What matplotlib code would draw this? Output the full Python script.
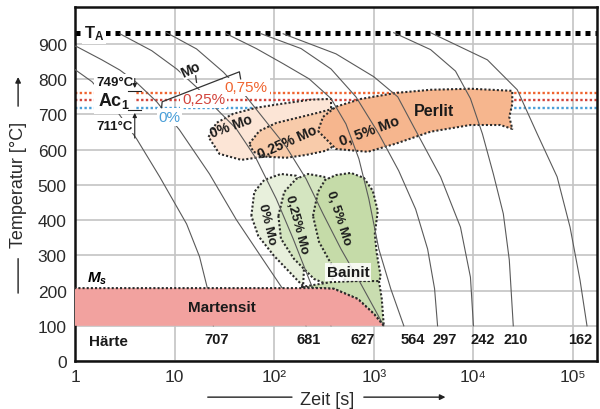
import matplotlib.pyplot as plt

plt.rcParams['font.family'] = ['Liberation Sans', 'DejaVu Sans']
plt.rcParams['mathtext.fontset'] = 'custom'
plt.rcParams['mathtext.rm'] = 'Liberation Sans:bold'
plt.rcParams['mathtext.it'] = 'Liberation Sans:italic:bold'
plt.rcParams['mathtext.bf'] = 'Liberation Sans:bold'

# ---- Daten: Abkuehlkurven (Zeit in s, Temperatur in °C) ----
t_c707 = [0.85, 1.05, 1.48, 2.45, 4.17, 7.08, 13.2, 17.8, 21.4, 24.5]
T_c707 = [842, 823, 793, 722, 630, 523, 389, 296, 205, 100]
t_c681 = [0.85, 1.05, 1.86, 2.82, 4.17, 6.61, 11.2, 22.4, 41.7, 77.6, 132, 209]
T_c681 = [901, 892, 855, 826, 790, 736, 656, 531, 401, 287, 190, 100]
t_cmid = [2.82, 5.89, 10.5, 17.4, 26.3, 41.7, 66.1, 105, 155, 224, 295, 372]
T_cmid = [929, 881, 829, 772, 716, 659, 574, 460, 347, 232, 148, 100]
t_c627 = [8.32, 16.6, 30.9, 52.5, 83.2, 132, 209, 309, 468, 741, 1259]
T_c627 = [932, 886, 820, 750, 679, 608, 517, 418, 318, 219, 100]
t_c564 = [33.1, 66.1, 123, 224, 372, 525, 708, 891, 1122, 1479, 2000]
T_c564 = [929, 887, 844, 801, 745, 673, 574, 460, 318, 205, 100]
t_c297 = [74.1, 186, 372, 661, 1122, 1778, 2630, 3467, 4074, 4365]
T_c297 = [929, 887, 829, 750, 645, 540, 431, 318, 205, 100]
t_c242 = [123, 417, 1000, 1738, 2512, 4677, 7413, 9333, 10000]
T_c242 = [929, 872, 807, 750, 665, 523, 380, 238, 100]
t_c210 = [1585, 3715, 6607, 9333, 12303, 15849, 19953, 22909, 25119]
T_c210 = [932, 884, 823, 745, 645, 531, 418, 287, 100]
t_c162 = [3715, 13804, 27542, 43652, 69183, 93325, 117490, 138038]
T_c162 = [932, 855, 770, 645, 523, 380, 230, 100]

# Haerte am Ende der Kurven
haerte = [707, 681, 627, 564, 297, 242, 210, 162]
haerte_t = [26.3, 224, 776, 2455, 5129, 12303, 26303, 117490]

# Kennlinien
T_A = 932
M_s = 207
ac1_T = [762, 740, 719]
ac1_mo = ['0,75%', '0,25%', '0%']
ac1_col = ['#F0642F', '#D2443C', '#4A9FD8']

# Perlitgebiete
perl0_t = [21.9, 26.3, 38.9, 66.1, 117, 234, 372, 372, 186, 77.6, 46.8, 28.2]
perl0_T = [636, 676, 702, 719, 730, 742, 744, 659, 602, 580, 571, 588]
perl25_t = [56.2, 70.8, 105, 186, 295, 468, 525, 331, 209, 132, 83.2, 61.7]
perl25_T = [617, 653, 676, 693, 707, 722, 631, 597, 585, 577, 580, 594]
perl50_t = [275, 417, 871, 1660, 3715, 9333, 18621, 24547, 22909, 24547, 24547,
            9333, 3715, 1660, 741, 417, 309]
perl50_T = [653, 602, 594, 617, 651, 670, 670, 659, 693, 730, 767, 773, 770, 761,
            744, 722, 693]

# Bainitgebiete
bain0_t = [58.9, 63.1, 79.4, 117, 166, 209, 224, 209, 200, 195, 174, 100, 69.2]
bain0_T = [412, 480, 514, 531, 526, 494, 432, 347, 276, 213, 227, 298, 355]
bain25_t = [110, 126, 166, 219, 316, 417, 468, 447, 417, 372, 251, 158, 117]
bain25_T = [412, 480, 517, 531, 523, 494, 432, 347, 276, 213, 233, 290, 347]
bain50_t = [245, 275, 324, 417, 589, 794, 977, 1096, 1023, 1072, 1175, 1122, 525,
            372, 282]
bain50_T = [412, 480, 514, 528, 534, 520, 483, 426, 361, 304, 239, 227, 227, 276, 338]
bainU_t = [186, 372, 1122, 1202, 1259, 1000, 692, 398]
bainU_T = [210, 224, 230, 176, 100, 134, 176, 205]

# Martensit
mart_t = [0.5, 295, 398, 692, 1000, 1259, 0.5]
mart_T = [207, 207, 205, 176, 134, 100, 100]

# ---- Zeichnen ----
fig = plt.figure(figsize=(6.0, 4.1), dpi=100)
ax = fig.add_axes([0.125, 0.117, 0.87, 0.8635])
ax.set_xscale('log')
ax.set_xlim(1, 1.74e5)
ax.set_ylim(0, 1005)
ax.set_xticks([1, 10, 100, 1000, 1e4, 1e5])
ax.set_xticklabels(['1', '10', '10²', '10³', '10⁴', '10⁵'])
ax.minorticks_off()
ax.set_yticks(range(0, 1000, 100))
ax.tick_params(length=0, labelsize=12.5, labelcolor='#2a2a2a')
ax.tick_params(axis='y', pad=6)
ax.tick_params(axis='x', pad=6)
ax.grid(True, color='#c4c4c4', lw=1.2, zorder=0)
ax.set_axisbelow(True)
for s in ax.spines.values():
    s.set_linewidth(1.8)
    s.set_color('#111111')

dot = (0, (1, 1))
edge = dict(color='#2b2b2b', lw=1.5, ls=dot)

# TA und Ac1
ax.axhline(T_A, color='black', lw=3.6, ls=dot, zorder=2)
for T, c in zip(ac1_T, ac1_col):
    ax.axhline(T, color=c, lw=1.7, ls=dot, zorder=1)


def region(t, T, col, z):
    ax.fill(t, T, color=col, lw=0, zorder=z)
    ax.plot(list(t) + [t[0]], list(T) + [T[0]], zorder=z + 0.1, **edge)


region(perl0_t, perl0_T, '#FCE5D6', 2)
region(perl25_t, perl25_T, '#F8CBAA', 2.3)
region(perl50_t, perl50_T, '#F6B68E', 2.6)
region(bain0_t, bain0_T, '#E8F0DC', 2)
region(bain25_t, bain25_T, '#D4E5C0', 2.3)
region(bainU_t, bainU_T, '#C9DDB0', 2.4)
region(bain50_t, bain50_T, '#C5DBA8', 2.6)

for t, T in [(t_c707, T_c707), (t_c681, T_c681), (t_cmid, T_cmid),
             (t_c627, T_c627), (t_c564, T_c564), (t_c297, T_c297),
             (t_c242, T_c242), (t_c210, T_c210), (t_c162, T_c162)]:
    ax.plot(t, T, color='#5a5a5a', lw=0.8, zorder=4)

ax.fill(mart_t, mart_T, color='#F2A29F', lw=0, zorder=5)
ax.plot(mart_t[:-1], mart_T[:-1], zorder=5.1, **edge)

wbox = dict(facecolor='white', edgecolor='none', pad=1.2)
bold = dict(fontweight='bold', color='#1a1a1a')

ax.text(1.55, T_A, r'T$_\mathrm{A}$', fontsize=12, ha='center', va='center',
        bbox=wbox, zorder=6, **bold)

# Ac1 Beschriftung
ax.text(2.45, 742, r'Ac$_1$', fontsize=13, ha='center', va='center',
        bbox=dict(facecolor='white', edgecolor='none', pad=3), zorder=6, **bold)
ax.text(2.5, 793, '749°C', fontsize=9.5, ha='center', va='center',
        bbox=wbox, zorder=6, **bold)
ax.text(2.5, 668, '711°C', fontsize=9.5, ha='center', va='center',
        bbox=wbox, zorder=6, **bold)
arr = dict(arrowstyle='-|>', lw=0.8, color='#222222', mutation_scale=6)
ax.annotate('', xy=(3.98, 767), xytext=(3.98, 810), arrowprops=arr, zorder=6)
ax.annotate('', xy=(3.98, 712), xytext=(3.98, 625), arrowprops=arr, zorder=6)
ax.plot([3.4, 4.6], [767, 767], color='#222222', lw=0.8, zorder=6)
ax.plot([3.4, 4.6], [712, 712], color='#222222', lw=0.8, zorder=6)

# Mo-Klammer
ax.text(52.5, 778, ac1_mo[0], fontsize=11, color=ac1_col[0], ha='center',
        va='center', bbox=wbox, zorder=6)
ax.text(19.5, 744, ac1_mo[1], fontsize=11, color=ac1_col[1], ha='center',
        va='center', bbox=wbox, zorder=6)
ax.text(8.9, 693, ac1_mo[2], fontsize=11, color=ac1_col[2], ha='center',
        va='center', bbox=wbox, zorder=6)
ax.plot([7.4, 7.5, 44.7, 46], [719, 736, 821, 801], color='#333333', lw=0.9, zorder=6)
ax.plot([16.6, 16.2], [791, 814], color='#333333', lw=0.9, zorder=6)
ax.text(14.5, 829, 'Mo', fontsize=10, rotation=25, ha='center', va='center',
        bbox=dict(facecolor='white', edgecolor='none', pad=0.5), zorder=6, **bold)

# Gebietsbeschriftungen
ax.text(37, 668, '0% Mo', fontsize=10, rotation=20, ha='center', va='center',
        zorder=6, **bold)
ax.text(136, 625, '0,25% Mo', fontsize=10, rotation=24, ha='center', va='center',
        zorder=6, **bold)
ax.text(912, 656, '0, 5% Mo', fontsize=10.5, rotation=20, ha='center', va='center',
        zorder=6, **bold)
ax.text(4000, 710, 'Perlit', fontsize=11.5, ha='center', va='center', zorder=6, **bold)
ax.text(85, 390, '0% Mo', fontsize=9.5, rotation=-76, ha='center', va='center',
        zorder=6, **bold)
ax.text(166, 390, '0,25% Mo', fontsize=9.5, rotation=-75, ha='center', va='center',
        zorder=6, **bold)
ax.text(440, 408, '0, 5% Mo', fontsize=9.5, rotation=-72, ha='center', va='center',
        zorder=6, **bold)
ax.text(550, 252, 'Bainit', fontsize=11, ha='center', va='center',
        bbox=dict(facecolor='white', edgecolor='none', pad=1.5, alpha=0.85),
        zorder=6, **bold)
ax.text(30, 152, 'Martensit', fontsize=11, ha='center', va='center', zorder=6, **bold)
ax.text(1.66, 236, '$M_s$', fontsize=11, ha='center', va='center', zorder=6)

ax.text(1.38, 57, 'Härte', fontsize=11, ha='left', va='center', zorder=6, **bold)
for h, t in zip(haerte, haerte_t):
    ax.text(t, 62, str(h), fontsize=10.5, ha='center', va='center', zorder=6, **bold)

# Achsenbeschriftung mit Pfeilen
ax.set_xlabel('Zeit [s]', fontsize=13, color='#2a2a2a')
ax.xaxis.set_label_coords(0.483, -0.085)
ax.set_ylabel('Temperatur [°C]', fontsize=13, color='#2a2a2a')
ax.yaxis.set_label_coords(-0.092, 0.5)
ln = dict(arrowstyle='-', lw=1.0, color='#222222')
ah = dict(arrowstyle='-|>', lw=1.0, color='#222222', mutation_scale=8)
ax.annotate('', xy=(0.421, -0.102), xytext=(0.249, -0.102),
            xycoords='axes fraction', arrowprops=ln, annotation_clip=False)
ax.annotate('', xy=(0.715, -0.102), xytext=(0.548, -0.102),
            xycoords='axes fraction', arrowprops=ah, annotation_clip=False)
ax.annotate('', xy=(-0.109, 0.184), xytext=(-0.109, 0.297),
            xycoords='axes fraction', arrowprops=ln, annotation_clip=False)
ax.annotate('', xy=(-0.109, 0.81), xytext=(-0.109, 0.712),
            xycoords='axes fraction', arrowprops=ah, annotation_clip=False)

fig.savefig('out.png', dpi=100)
